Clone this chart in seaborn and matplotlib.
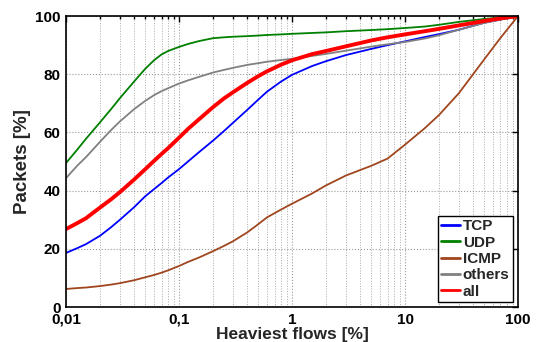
import numpy as np
import pandas as pd
import matplotlib
matplotlib.use('Agg')
import matplotlib.pyplot as plt
import seaborn as sns
from matplotlib.ticker import FixedLocator, LogLocator, NullFormatter

# heaviest flows [%] (shared x grid)
fluxos = [0.01, 0.0125, 0.015, 0.02, 0.025, 0.03, 0.04, 0.05, 0.06, 0.07, 0.08,
          0.1, 0.12, 0.15, 0.2, 0.25, 0.3, 0.4, 0.5, 0.6, 0.8, 1, 1.5, 2, 3,
          5, 7, 10, 15, 20, 30, 50, 70, 100]

tcp = [18.6, 20.2, 21.6, 24.5, 27.4, 30.0, 34.3, 38.0, 40.5, 42.6, 44.5,
       47.4, 50.0, 53.2, 57.2, 60.5, 63.3, 67.7, 71.2, 74.0, 77.5, 79.8, 82.8, 84.5, 86.6,
       88.7, 90.0, 91.3, 92.8, 93.8, 95.3, 97.7, 98.8, 100]
udp = [49.5, 54.0, 57.8, 63.5, 68.0, 71.8, 77.5, 81.8, 84.8, 86.8, 88.0,
       89.4, 90.4, 91.4, 92.4, 92.7, 92.9, 93.1, 93.3, 93.5, 93.7, 93.9, 94.2, 94.4, 94.8,
       95.2, 95.5, 95.9, 96.4, 97.0, 98.0, 99.0, 99.5, 100]
icmp = [6.2, 6.5, 6.7, 7.2, 7.7, 8.2, 9.2, 10.2, 11.0, 11.8, 12.6,
        14.1, 15.5, 17.0, 19.2, 21.0, 22.6, 25.6, 28.4, 30.8, 33.5, 35.5, 39.0, 41.8, 45.2,
        48.5, 51.0, 55.8, 61.5, 66.0, 73.5, 85.0, 92.5, 100]
others = [44.3, 48.5, 51.5, 56.8, 60.8, 63.8, 68.0, 70.8, 72.8, 74.2, 75.2,
          76.8, 77.9, 79.1, 80.6, 81.5, 82.2, 83.2, 83.8, 84.3, 84.9, 85.3, 86.3, 87.0, 88.1,
          89.5, 90.3, 91.1, 92.3, 93.4, 95.3, 97.6, 98.8, 100]
all_ = [26.8, 28.8, 30.5, 34.2, 37.0, 39.5, 43.8, 47.3, 50.2, 52.6, 54.6,
        58.2, 61.2, 64.5, 68.7, 71.7, 73.8, 77.0, 79.3, 81.0, 83.3, 84.8, 86.9, 88.0, 89.6,
        91.6, 92.7, 93.7, 94.8, 95.6, 96.8, 98.3, 99.2, 100]

series = ['TCP', 'UDP', 'ICMP', 'others', 'all']
cores = ['#0000ff', '#008000', '#a0461e', '#808080', '#ff0000']
larguras = [1.3, 1.3, 1.3, 1.3, 2.8]

df = pd.DataFrame({'Fluxos': fluxos * 5,
                   'Pacotes': tcp + udp + icmp + others + all_,
                   'Tipo': np.repeat(series, len(fluxos))})

sns.set_theme(style='white')
plt.rcParams['font.family'] = ['Liberation Sans', 'DejaVu Sans']
plt.rcParams['font.weight'] = 'bold'

fig = plt.figure(figsize=(5.37, 3.42), dpi=100)
ax = fig.add_axes([0.123, 0.1023, 0.8416, 0.8507])

for nome, cor, lw in zip(series, cores, larguras):
    sns.lineplot(data=df[df['Tipo'] == nome], x='Fluxos', y='Pacotes',
                 color=cor, linewidth=lw, label=nome, ax=ax)

ax.set_xscale('log')
ax.set_xlim(0.01, 100)
ax.set_ylim(0, 100)
ax.xaxis.set_major_locator(FixedLocator([0.01, 0.1, 1, 10, 100]))
ax.set_xticklabels(['0,01', '0,1', '1', '10', '100'], fontsize=11, fontweight='bold')
ax.xaxis.set_minor_locator(LogLocator(base=10, subs=np.arange(2, 10)))
ax.xaxis.set_minor_formatter(NullFormatter())
ax.set_yticks([0, 20, 40, 60, 80, 100])
ax.set_yticklabels(['0', '20', '40', '60', '80', '100'], fontsize=11, fontweight='bold',
                   va='center_baseline')

ax.grid(True, which='major', linestyle=':', color='#999999', linewidth=0.8)
ax.grid(True, which='minor', axis='x', linestyle=':', color='#aaaaaa', linewidth=0.7)
ax.tick_params(which='both', direction='in', top=True, right=True, length=4,
               width=1, colors='black')
ax.tick_params(axis='x', pad=4)
ax.tick_params(axis='y', pad=4)
ax.tick_params(which='minor', length=2)
for s in ax.spines.values():
    s.set_color('black')
    s.set_linewidth(1.2)

ax.set_xlabel('Heaviest flows [%]', fontsize=12.5, fontweight='bold', labelpad=0)
ax.set_ylabel('Packets [%]', fontsize=13.5, fontweight='bold', labelpad=3)

leg = ax.legend(loc='lower right', fancybox=False, framealpha=1, edgecolor='black',
                handlelength=1.2, handletextpad=0.2, borderpad=0.25, labelspacing=0.15,
                borderaxespad=0.3, prop={'weight': 'bold', 'size': 11})
leg.get_frame().set_linewidth(1.0)
for l in leg.get_lines():
    l.set_linewidth(2)

fig.savefig('out.png', dpi=100)
